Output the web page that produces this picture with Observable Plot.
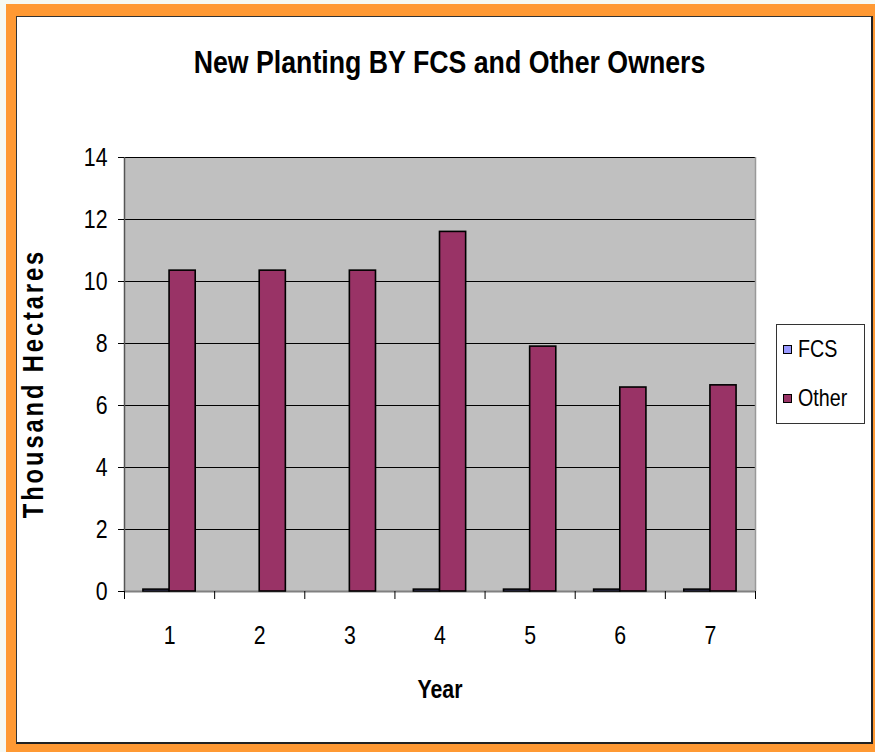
<!DOCTYPE html>
<html>
<head>
<meta charset="utf-8">
<script src="https://cdn.jsdelivr.net/npm/d3@7"></script>
<script src="https://cdn.jsdelivr.net/npm/@observablehq/plot@0.6"></script>
<style>
  body { margin: 0; background: #f6f9f3; width: 875px; height: 752px; overflow: hidden; position: relative;
         font-family: 'Liberation Sans', Arial, sans-serif; }
  #frame { position: absolute; left: 6px; top: 4px; width: 869px; height: 748px; background: #FF9933; }
  #inner { position: absolute; left: 16px; top: 16px; width: 857px; height: 728px; background: #fff; box-sizing: border-box;
           border-left: 1px solid #333; border-top: 1px solid #333; border-right: 2px solid #222; border-bottom: 2px solid #222; }
  #title { position: absolute; left: 21px; width: 857px; top: 44px; text-align: center; font-weight: bold;
           font-size: 32px; line-height: 36px; color: #000; transform: scaleX(0.835); transform-origin: 50% 50%; }
  #chart { position: absolute; left: 16px; top: 100px; }
  #legend { position: absolute; left: 776px; top: 324px; width: 89px; height: 100px; box-sizing: border-box;
            border: 1px solid #333; background: #fff; }
  .item { position: absolute; left: 6px; font-size: 24px; line-height: 24px; color: #000; white-space: nowrap; }
  .sw { display: inline-block; width: 7px; height: 7px; border: 1px solid #000; margin-right: 6px; vertical-align: 3px; }
  .lt { display: inline-block; transform: scaleX(0.82); transform-origin: 0 50%; }
</style>
</head>
<body>
<div id="frame"></div>
<div id="inner"></div>
<div id="title"></div>
<div id="chart"></div>
<div id="legend"></div>
<script>
const years = [1, 2, 3, 4, 5, 6, 7];
const seriesNames = ["FCS", "Other"];
const fcsValues = [0.06, null, null, 0.06, 0.06, 0.06, 0.06];
const otherValues = [10.35, 10.35, 10.35, 11.6, 7.9, 6.58, 6.65];
const seriesColors = ["#9999FF", "#993366"];
const yTicks = [0, 2, 4, 6, 8, 10, 12, 14];
const titleText = "New Planting BY FCS and Other Owners";
const yLabel = "Thousand Hectares";
const xLabel = "Year";

const barW = 0.29; // bar width as a fraction of a year band
const rows = [];
years.forEach((yr, i) => {
  if (fcsValues[i] != null) rows.push({year: yr, series: "FCS", value: fcsValues[i], x1: yr - barW, x2: yr});
  if (otherValues[i] != null) rows.push({year: yr, series: "Other", value: otherValues[i], x1: yr, x2: yr + barW});
});
const boundaries = [0.5, ...years.map(y => y + 0.5)];
const fontFam = "'Liberation Sans', Arial, sans-serif";
const narrow = 0.82;

const chart = Plot.plot({
  width: 745,
  height: 620,
  marginLeft: 108,
  marginTop: 57,
  marginRight: 6,
  marginBottom: 129,
  x: {domain: [0.5, 7.5]},
  y: {domain: [0, 14]},
  color: {domain: seriesNames, range: seriesColors},
  style: {fontFamily: fontFam, fontSize: "26px", color: "#000", background: "transparent", overflow: "visible"},
  marks: [
    Plot.frame({fill: "#C0C0C0", stroke: null}),
    Plot.ruleY(yTicks.filter(t => t > 0), {stroke: "#000", strokeWidth: 1}),
    Plot.ruleX([7.5], {stroke: "#999", strokeWidth: 1.5}),
    Plot.ruleY([0], {stroke: "#808080", strokeWidth: 2}),
    Plot.rectY(rows, {x1: "x1", x2: "x2", y: "value", fill: "series", stroke: "#000", strokeWidth: 1.6}),
    Plot.ruleX([0.5], {stroke: "#555", strokeWidth: 1.5}),
    Plot.axisY({ticks: yTicks, tickSize: 6, tickPadding: 11, label: null, stroke: "#000"}),
    Plot.axisX({ticks: boundaries, tickSize: 8, tickFormat: () => "", label: null, stroke: "#000"}),
    Plot.axisX({ticks: years, tickSize: 0, tickPadding: 34, tickFormat: d3.format("d"), label: null}),
    Plot.text([yLabel], {frameAnchor: "left", rotate: -90, dx: -102, dy: 9, textAnchor: "middle", lineAnchor: "top",
                         fontWeight: "bold", fontSize: 29, fill: "#000"}),
    Plot.text([xLabel], {frameAnchor: "bottom", dy: 106, lineAnchor: "bottom",
                         fontWeight: "bold", fontSize: 26, fill: "#000"})
  ]
});
d3.select(chart).selectAll("text").filter(function() { return this.textContent === yLabel; })
  .style("letter-spacing", "3.5px");
// condensed lettering, as in the original (narrow typeface): scale each text along its own x axis
d3.select(chart).selectAll("text").each(function() {
  const t = this.getAttribute("transform") || "";
  this.setAttribute("transform", `${t} scale(${narrow},1)`.trim());
});
document.getElementById("chart").appendChild(chart);
document.getElementById("title").textContent = titleText;

const legend = d3.select("#legend");
seriesNames.forEach((s, i) => {
  const it = legend.append("div").attr("class", "item").style("top", (i === 0 ? 12 : 61) + "px");
  it.append("span").attr("class", "sw").style("background", seriesColors[i]);
  it.append("span").attr("class", "lt").text(s);
});
</script>
</body>
</html>
